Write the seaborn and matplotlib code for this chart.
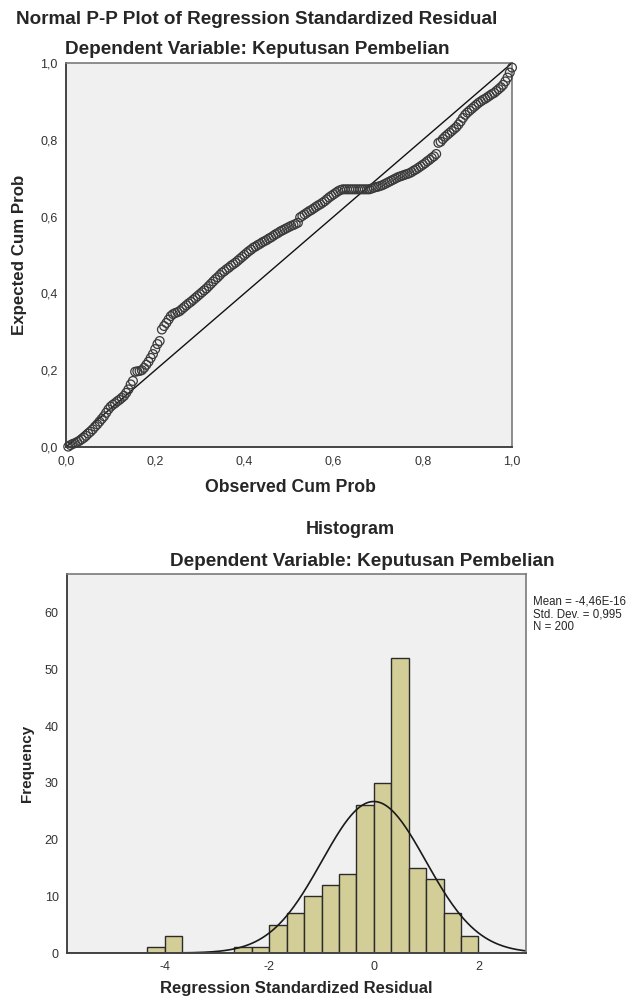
import numpy as np
import seaborn as sns
import matplotlib.pyplot as plt
from matplotlib.ticker import FuncFormatter

# P-P plot: observed vs expected cumulative probability
observed = [0.005, 0.010, 0.015, 0.020, 0.025, 0.030, 0.035, 0.040, 0.045, 0.050,
            0.055, 0.060, 0.065, 0.070, 0.075, 0.080, 0.085, 0.090, 0.095, 0.100,
            0.105, 0.110, 0.115, 0.120, 0.125, 0.130, 0.135, 0.140, 0.145, 0.150,
            0.155, 0.160, 0.165, 0.170, 0.175, 0.180, 0.185, 0.190, 0.195, 0.200,
            0.205, 0.210, 0.215, 0.220, 0.225, 0.230, 0.235, 0.240, 0.245, 0.250,
            0.255, 0.260, 0.265, 0.270, 0.275, 0.280, 0.285, 0.290, 0.295, 0.300,
            0.305, 0.310, 0.315, 0.320, 0.325, 0.330, 0.335, 0.340, 0.345, 0.350,
            0.355, 0.360, 0.365, 0.370, 0.375, 0.380, 0.385, 0.390, 0.395, 0.400,
            0.405, 0.410, 0.415, 0.420, 0.425, 0.430, 0.435, 0.440, 0.445, 0.450,
            0.455, 0.460, 0.465, 0.470, 0.475, 0.480, 0.485, 0.490, 0.495, 0.500,
            0.505, 0.510, 0.515, 0.520, 0.525, 0.530, 0.535, 0.540, 0.545, 0.550,
            0.555, 0.560, 0.565, 0.570, 0.575, 0.580, 0.585, 0.590, 0.595, 0.600,
            0.605, 0.610, 0.615, 0.620, 0.625, 0.630, 0.635, 0.640, 0.645, 0.650,
            0.655, 0.660, 0.665, 0.670, 0.675, 0.680, 0.685, 0.690, 0.695, 0.700,
            0.705, 0.710, 0.715, 0.720, 0.725, 0.730, 0.735, 0.740, 0.745, 0.750,
            0.755, 0.760, 0.765, 0.770, 0.775, 0.780, 0.785, 0.790, 0.795, 0.800,
            0.805, 0.810, 0.815, 0.820, 0.825, 0.830, 0.835, 0.840, 0.845, 0.850,
            0.855, 0.860, 0.865, 0.870, 0.875, 0.880, 0.885, 0.890, 0.895, 0.900,
            0.905, 0.910, 0.915, 0.920, 0.925, 0.930, 0.935, 0.940, 0.945, 0.950,
            0.955, 0.960, 0.965, 0.970, 0.975, 0.980, 0.985, 0.990, 0.995, 1.000]
expected = [0.001, 0.005, 0.008, 0.010, 0.013, 0.016, 0.020, 0.024, 0.029, 0.035,
            0.040, 0.046, 0.053, 0.059, 0.066, 0.073, 0.080, 0.089, 0.098, 0.105,
            0.110, 0.114, 0.119, 0.123, 0.128, 0.133, 0.141, 0.150, 0.163, 0.172,
            0.196, 0.197, 0.198, 0.200, 0.206, 0.214, 0.222, 0.232, 0.242, 0.255,
            0.268, 0.276, 0.306, 0.315, 0.323, 0.332, 0.341, 0.346, 0.349, 0.351,
            0.354, 0.359, 0.364, 0.369, 0.374, 0.378, 0.383, 0.388, 0.393, 0.398,
            0.403, 0.408, 0.413, 0.419, 0.425, 0.431, 0.437, 0.442, 0.448, 0.454,
            0.458, 0.463, 0.467, 0.472, 0.476, 0.480, 0.485, 0.490, 0.495, 0.500,
            0.505, 0.510, 0.514, 0.519, 0.522, 0.526, 0.529, 0.533, 0.536, 0.539,
            0.543, 0.546, 0.550, 0.554, 0.557, 0.561, 0.564, 0.567, 0.570, 0.573,
            0.576, 0.578, 0.581, 0.584, 0.598, 0.602, 0.606, 0.610, 0.614, 0.617,
            0.621, 0.625, 0.629, 0.632, 0.636, 0.640, 0.645, 0.650, 0.654, 0.658,
            0.662, 0.666, 0.669, 0.671, 0.671, 0.671, 0.671, 0.671, 0.671, 0.671,
            0.671, 0.671, 0.671, 0.671, 0.671, 0.671, 0.673, 0.675, 0.677, 0.678,
            0.680, 0.682, 0.685, 0.688, 0.691, 0.694, 0.697, 0.700, 0.703, 0.705,
            0.707, 0.709, 0.711, 0.713, 0.716, 0.720, 0.723, 0.727, 0.731, 0.735,
            0.739, 0.744, 0.748, 0.753, 0.757, 0.763, 0.792, 0.795, 0.802, 0.808,
            0.813, 0.818, 0.823, 0.828, 0.833, 0.840, 0.848, 0.857, 0.865, 0.871,
            0.876, 0.881, 0.886, 0.891, 0.896, 0.900, 0.904, 0.907, 0.911, 0.915,
            0.919, 0.922, 0.927, 0.932, 0.937, 0.943, 0.952, 0.962, 0.975, 0.988]
pp_ticks = [0.0, 0.2, 0.4, 0.6, 0.8, 1.0]

# histogram of standardized residuals
bin_edges = [-4.333, -4.0, -3.667, -3.333, -3.0, -2.667, -2.333, -2.0, -1.667, -1.333,
             -1.0, -0.667, -0.333, 0.0, 0.333, 0.667, 1.0, 1.333, 1.667, 2.0]
counts = [1, 3, 0, 0, 0, 1, 1, 5, 7, 10, 12, 14, 26, 30, 52, 15, 13, 7, 3]
hist_xticks = [-4, -2, 0, 2]
hist_yticks = [0, 10, 20, 30, 40, 50, 60]
resid_mean = -4.46e-16
resid_sd = 0.995
n_obs = 200

W, H = 628, 999


def px_text(fig, x, y, s, **kw):
    fig.text(x / W, 1 - y / H, s, **kw)


def style_axes(ax):
    ax.set_facecolor("#f0f0f0")
    for side in ["left", "bottom"]:
        ax.spines[side].set_color("#444444")
        ax.spines[side].set_linewidth(1.4)
    for side in ["top", "right"]:
        ax.spines[side].set_color("#7a7a7a")
        ax.spines[side].set_linewidth(1.2)
    ax.tick_params(direction="out", length=5, width=1.1, color="#333333",
                   labelsize=9, labelcolor="#333333", pad=1)
    ax.set_xlabel("")
    ax.set_ylabel("")


def main():
    sns.set_style("white")
    plt.rcParams["font.family"] = ["Liberation Sans", "DejaVu Sans"]
    plt.rcParams["axes.unicode_minus"] = False

    fig = plt.figure(figsize=(W / 100, H / 100), dpi=100)
    ax1 = fig.add_axes([66 / W, 1 - 447 / H, 446 / W, 384 / H])
    ax2 = fig.add_axes([67 / W, 1 - 953 / H, 459 / W, 379 / H])

    # --- P-P plot
    ax1.axline((0, 0), slope=1, color="#111111", linewidth=1.0)
    sns.scatterplot(x=observed, y=expected, ax=ax1, marker="o", s=40,
                    facecolor="none", edgecolor="#3a3a3a", linewidth=0.9,
                    clip_on=False, zorder=3)
    ax1.set_xlim(0, 1)
    ax1.set_ylim(0, 1)
    ax1.set_xticks(pp_ticks)
    ax1.set_yticks(pp_ticks)
    comma = FuncFormatter(lambda v, _: f"{v:.1f}".replace(".", ","))
    ax1.xaxis.set_major_formatter(comma)
    ax1.yaxis.set_major_formatter(comma)
    style_axes(ax1)

    # --- histogram with normal curve
    centers = [(a + b) / 2 for a, b in zip(bin_edges[:-1], bin_edges[1:])]
    sns.histplot(x=centers, weights=counts, bins=bin_edges, ax=ax2,
                 color="#d3ce97", edgecolor="#2b2b2b", linewidth=1.0, alpha=1)
    binw = bin_edges[1] - bin_edges[0]
    xs = np.linspace(-5.87, 2.91, 400)
    ys = n_obs * binw * np.exp(-0.5 * ((xs - resid_mean) / resid_sd) ** 2) / (resid_sd * np.sqrt(2 * np.pi))
    sns.lineplot(x=xs, y=ys, ax=ax2, color="#1a1a1a", linewidth=1.2)
    ax2.set_xlim(-5.87, 2.91)
    ax2.set_ylim(0, 66.8)
    ax2.set_xticks(hist_xticks)
    ax2.set_yticks(hist_yticks)
    style_axes(ax2)

    # --- texts
    px_text(fig, 257, 20, "Normal P-P Plot of Regression Standardized Residual",
            ha="center", va="center", fontsize=13.6, fontweight="bold")
    px_text(fig, 257, 50, "Dependent Variable: Keputusan Pembelian",
            ha="center", va="center", fontsize=13.6, fontweight="bold")
    px_text(fig, 290, 487, "Observed Cum Prob", ha="center", va="center",
            fontsize=12.7, fontweight="bold")
    px_text(fig, 20, 255, "Expected Cum Prob", ha="center", va="center",
            fontsize=12.2, fontweight="bold", rotation=90)

    px_text(fig, 350, 530, "Histogram", ha="center", va="center",
            fontsize=13, fontweight="bold")
    px_text(fig, 362, 561, "Dependent Variable: Keputusan Pembelian",
            ha="center", va="center", fontsize=13.6, fontweight="bold")
    px_text(fig, 296, 989, "Regression Standardized Residual", ha="center",
            va="center", fontsize=12, fontweight="bold")
    px_text(fig, 27, 763, "Frequency", ha="center", va="center",
            fontsize=11, fontweight="bold", rotation=90)
    stats = f"Mean = -4,46E-16\nStd. Dev. = {resid_sd:.3f}\nN = {n_obs}".replace("0.995", "0,995")
    px_text(fig, 533, 596, stats, ha="left", va="top", fontsize=8.3,
            linespacing=1.05)

    fig.savefig("out.png", dpi=100, facecolor="white")


if __name__ == "__main__":
    main()
